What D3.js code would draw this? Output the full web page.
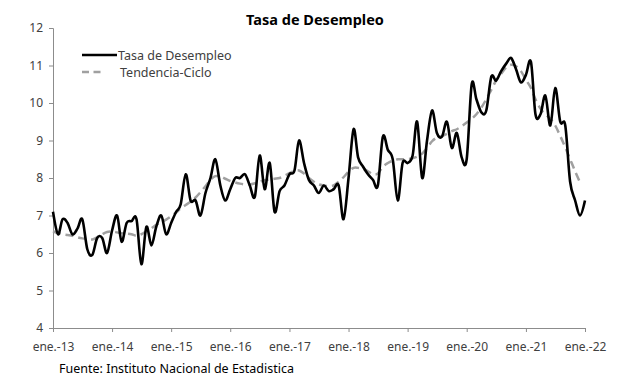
<!DOCTYPE html>
<html>
<head>
<meta charset="utf-8">
<script src="https://cdn.jsdelivr.net/npm/d3@7"></script>
<style>
  body { margin: 0; background: #fff; }
  text { font-family: "Noto Sans", sans-serif; }
</style>
</head>
<body>
<div id="chart"></div>
<script>
// Monthly series, starting ene. 2013
const tasaDesempleo = [
  7.1, 6.5, 6.9, 6.8, 6.5, 6.65, 6.9, 6.1, 5.95, 6.4, 6.4, 6.0,
  6.6, 7.0, 6.3, 6.8, 6.85, 6.9, 5.7, 6.7, 6.2, 6.7, 7.0, 6.5,
  6.8, 7.1, 7.3, 8.1, 7.4, 7.4, 7.0, 7.6, 8.0, 8.5, 7.8, 7.4,
  7.7, 8.0, 8.0, 8.1, 7.8, 7.5, 8.6, 7.7, 8.4, 7.1, 7.65, 7.8,
  8.1, 8.2, 9.0, 8.4, 7.95, 7.8, 7.6, 7.8, 7.65, 7.7, 7.8, 6.9,
  8.0, 9.3, 8.55, 8.3, 8.1, 7.95, 7.8, 9.1, 8.75, 8.5, 7.4, 8.4,
  8.4, 8.6, 9.5, 8.0, 9.0, 9.8, 9.2, 9.1, 9.5, 8.8, 9.2, 8.55,
  8.5, 10.5, 10.1, 9.75, 9.8, 10.7, 10.6, 10.85, 11.05, 11.2, 10.9, 10.55,
  10.75, 11.1, 9.7, 9.7, 10.2, 9.4, 10.4, 9.5, 9.4, 7.9, 7.4, 7.0,
  7.4
];

const tendenciaCiclo = [
  6.58, 6.53, 6.5, 6.48, 6.46, 6.42, 6.39, 6.37, 6.36, 6.42, 6.5, 6.56,
  6.57, 6.55, 6.53, 6.52, 6.5, 6.46, 6.5, 6.58, 6.66, 6.75, 6.82, 6.89,
  6.98, 7.08, 7.19, 7.28, 7.37, 7.48, 7.62, 7.78, 7.95, 8.05, 8.04, 7.98,
  7.92, 7.88, 7.85, 7.83, 7.83, 7.86, 7.9, 7.94, 7.96, 7.98, 8.0, 8.06,
  8.13, 8.19, 8.2, 8.12, 8.0, 7.9, 7.83, 7.8, 7.78, 7.8, 7.9, 8.02,
  8.17, 8.27, 8.27, 8.24, 8.18, 8.1, 8.12, 8.3, 8.4, 8.46, 8.5, 8.5,
  8.5, 8.53, 8.57, 8.65, 8.8, 8.98, 9.08, 9.12, 9.18, 9.25, 9.3, 9.38,
  9.48, 9.58, 9.7, 9.88, 10.1, 10.35, 10.6, 10.78, 10.95, 11.02, 10.98, 10.85,
  10.62, 10.4, 10.1, 9.85, 9.7, 9.58, 9.4, 9.12, 8.82, 8.5, 8.18, 7.88
];

const xTickLabels = ['ene.-13', 'ene.-14', 'ene.-15', 'ene.-16', 'ene.-17',
  'ene.-18', 'ene.-19', 'ene.-20', 'ene.-21', 'ene.-22'];
const yTicks = [4, 5, 6, 7, 8, 9, 10, 11, 12];
const seriesNames = ['Tasa de Desempleo', 'Tendencia-Ciclo'];

const width = 617, height = 378;
const margin = { top: 28, right: 32, bottom: 50, left: 53 };

const svg = d3.select('#chart').append('svg')
  .attr('width', width)
  .attr('height', height);

const monthDate = i => new Date(2013, i, 1);

const x = d3.scaleTime()
  .domain([monthDate(0), monthDate(108)])
  .range([margin.left, width - margin.right]);

const y = d3.scaleLinear()
  .domain([4, 12])
  .range([height - margin.bottom, margin.top]);

const axisColor = '#8c8c8c';
const labelColor = '#404040';

// title
svg.append('text')
  .attr('x', 315)
  .attr('y', 25)
  .attr('text-anchor', 'middle')
  .style('font-size', '14.5px')
  .style('font-weight', 'bold')
  .attr('fill', '#000')
  .text('Tasa de Desempleo');

// y axis
const yAxis = svg.append('g')
  .attr('transform', `translate(${margin.left},0)`)
  .call(d3.axisLeft(y).tickValues(yTicks).tickSize(4).tickPadding(6).tickFormat(d3.format('d')));
yAxis.select('.domain').attr('stroke', axisColor);
yAxis.selectAll('.tick line').attr('stroke', axisColor);
yAxis.selectAll('.tick text')
  .attr('fill', labelColor)
  .style('font-size', '12px')
  .style('font-family', '"Noto Sans", sans-serif');

// x axis
const xTickDates = xTickLabels.map((d, i) => monthDate(i * 12));
const xAxis = svg.append('g')
  .attr('transform', `translate(0,${height - margin.bottom})`)
  .call(d3.axisBottom(x).tickValues(xTickDates).tickSize(4).tickPadding(10)
    .tickSizeOuter(0)
    .tickFormat((d, i) => xTickLabels[i]));
xAxis.select('.domain').attr('stroke', axisColor);
xAxis.selectAll('.tick line').attr('stroke', axisColor);
xAxis.selectAll('.tick text')
  .attr('fill', labelColor)
  .style('font-size', '12px')
  .style('font-family', '"Noto Sans", sans-serif');

// lines
const line = d3.line()
  .x((d, i) => x(monthDate(i)))
  .y(d => y(d))
  .curve(d3.curveCardinal.tension(0));

svg.append('path')
  .datum(tendenciaCiclo)
  .attr('fill', 'none')
  .attr('stroke', '#a0a0a0')
  .attr('stroke-width', 2.5)
  .attr('stroke-dasharray', '8,5')
  .attr('d', line);

svg.append('path')
  .datum(tasaDesempleo)
  .attr('fill', 'none')
  .attr('stroke', '#000')
  .attr('stroke-width', 2.6)
  .attr('stroke-linejoin', 'round')
  .attr('d', line);

// legend
const legend = svg.append('g').attr('class', 'legend');

legend.append('line')
  .attr('x1', 82).attr('x2', 117)
  .attr('y1', 55).attr('y2', 55)
  .attr('stroke', '#000')
  .attr('stroke-width', 2.6);
legend.append('text')
  .attr('x', 118).attr('y', 59.5)
  .attr('fill', labelColor)
  .style('font-size', '12.5px')
  .text(seriesNames[0]);

legend.append('line')
  .attr('x1', 82).attr('x2', 101)
  .attr('y1', 72).attr('y2', 72)
  .attr('stroke', '#a0a0a0')
  .attr('stroke-width', 2.5)
  .attr('stroke-dasharray', '7,4.5');
legend.append('text')
  .attr('x', 120).attr('y', 76.5)
  .attr('fill', labelColor)
  .style('font-size', '12.5px')
  .text(seriesNames[1]);

// source
svg.append('text')
  .attr('x', 59)
  .attr('y', 373)
  .attr('fill', '#000')
  .style('font-size', '12.5px')
  .text('Fuente: Instituto Nacional de Estadistica');
</script>
</body>
</html>
